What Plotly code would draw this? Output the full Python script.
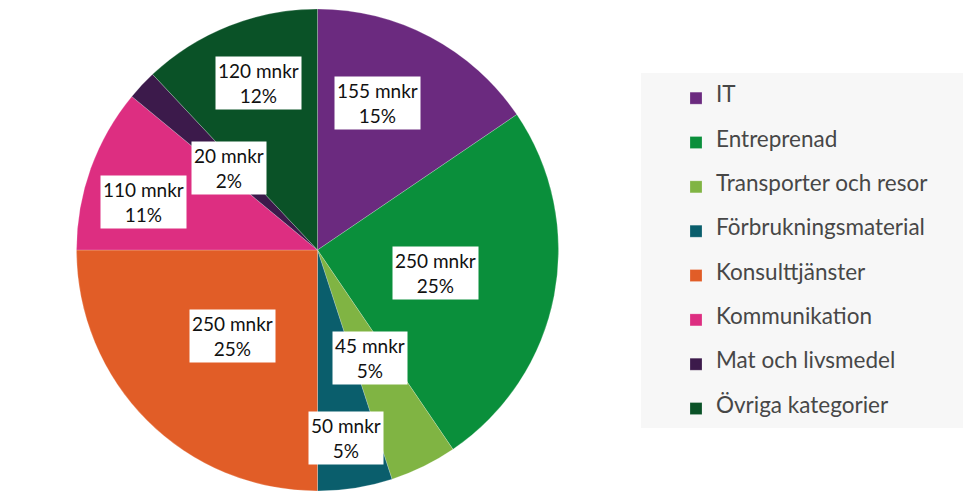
import math
import plotly.graph_objects as go

categories = ["IT", "Entreprenad", "Transporter och resor", "Förbrukningsmaterial",
              "Konsulttjänster", "Kommunikation", "Mat och livsmedel", "Övriga kategorier"]
values = [155, 250, 45, 50, 250, 110, 20, 120]
percent_labels = ["15%", "25%", "5%", "5%", "25%", "11%", "2%", "12%"]
colors = ["#6b2a7f", "#0a8f3b", "#80b443", "#0a5e6c", "#e15d27", "#dd2e81", "#3c1a4b", "#0a5227"]

W, H = 971, 501
OFF = 8  # page body margin
# target geometry in screenshot pixels (from top-left)
cx_s, cy_s, R = 317.5, 250, 241
cx = cx_s - OFF
cy = H - (cy_s - OFF)  # from bottom
# label placement: radial fraction and angular tweak (degrees) per slice
label_r = [0.66, 0.50, 0.50, 0.79, 0.50, 0.75, 0.50, 0.735]
label_dtheta = [-5.7, 0.3, 0.3, 0.5, -0.2, -4.5, -0.2, 2.0]

FONT = "Lato"
LEG_SIZE = 22.5
LEG_BASE = 10.6

legend_labels = [f"<br><span style='font-size:{LEG_SIZE}px'>{c}</span><br>" for c in categories]

fig = go.Figure(go.Pie(
    labels=legend_labels,
    values=values,
    customdata=categories,
    hovertemplate="%{customdata}: %{value} mnkr (%{percent})<extra></extra>",
    sort=False,
    direction="clockwise",
    rotation=0,
    marker=dict(colors=colors, line=dict(color="rgba(255,255,255,0.35)", width=0.6)),
    textinfo="none",
    domain=dict(x=[(cx - R) / W, (cx + R) / W], y=[(cy - R) / H, (cy + R) / H]),
))

total = sum(values)
cum = 0
boxes = []
for v, p, f, dt in zip(values, percent_labels, label_r, label_dtheta):
    mid = (cum + v / 2) / total * 2 * math.pi + math.radians(dt)
    cum += v
    px = cx + f * R * math.sin(mid)
    py = cy + f * R * math.cos(mid)
    boxes.append(dict(
        x=px / W, y=py / H, xref="paper", yref="paper", xanchor="center", yanchor="middle",
        text=f"{v} mnkr<br>{p}", showarrow=False,
        font=dict(family=FONT, size=19, color="#111111"),
        bgcolor="white", borderpad=2, align="center",
    ))

fig.update_layout(
    width=W, height=H,
    margin=dict(l=0, r=0, t=0, b=0),
    paper_bgcolor="white",
    plot_bgcolor="white",
    showlegend=True,
    legend=dict(
        x=(676 - OFF) / W, y=1 - (71 - OFF) / H, xanchor="left", yanchor="top",
        bgcolor="rgba(0,0,0,0)",
        font=dict(family=FONT, size=LEG_BASE, color="#474747"),
        traceorder="normal",
    ),
    shapes=[dict(type="rect", xref="paper", yref="paper",
                 x0=(641 - OFF) / W, x1=1.0, y0=1 - (428 - OFF) / H, y1=1 - (73 - OFF) / H,
                 fillcolor="#f7f7f7", line=dict(width=0), layer="below")],
    annotations=boxes,
)

fig.write_html("out.html")
